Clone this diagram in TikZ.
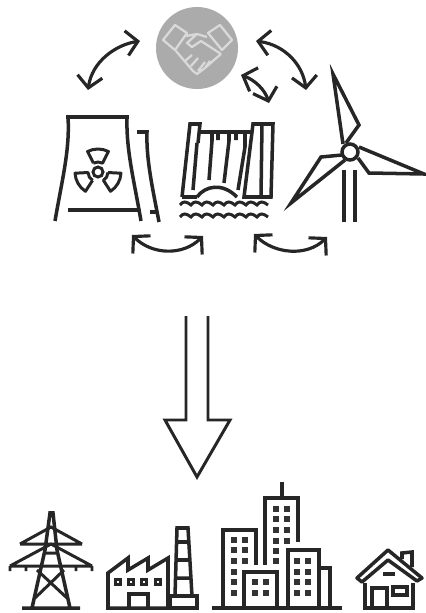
\documentclass[tikz,border=0pt]{standalone}
\usetikzlibrary{arrows.meta}
\tikzset{
  icon/.style={line width=2pt,draw=black!85,line join=miter},
  swap/.style={line width=1.8pt,draw=black!85,{Straight Barb[length=2.3mm,width=5mm,line width=1.8pt]}-{Straight Barb[length=2.3mm,width=5mm,line width=1.8pt]}},
  pane/.style={fill=black!80,draw=none},
}
\begin{document}
\begin{tikzpicture}[x=0.02cm,y=-0.02cm]
\useasboundingbox (0,0) rectangle (426,613);
% handshake
\fill[black!33] (197,48) circle (41);
\draw[white!85!black,line width=1.3pt,line join=round] (163,40)--(175,25)--(187,33)--(175,50)--cycle (208,33)--(220,25)--(232,40)--(222,50)--cycle
  (186,36)--(197,34)--(207,37) (197,34)--(187,43)--(192,47)--(201,41)--(221,54)
  (176,51)--(193,71)--(197,74)--(205,68)--(214,60)--(221,54) (185,61)--(192,55) (191,66)--(198,58) (198,71)--(205,62) (205,68)--(210,61);
\draw[swap] (88,90) .. controls (92,62) and (115,45) .. (140,41);
\draw[swap] (256,41) .. controls (285,45) and (303,65) .. (306,90);
\draw[swap] (241,75) .. controls (255,80) and (265,90) .. (269,103);
\draw[swap] (132,235) .. controls (152,255) and (183,256) .. (203,236);
\draw[swap] (254,234) .. controls (274,254) and (307,257) .. (327,237);
% cooling towers
\draw[icon] (66,117)--(129,117);
\draw[icon] (68,117) .. controls (70,150) and (62,180) .. (55,221);
\draw[icon] (127,117) .. controls (126,150) and (134,180) .. (141,221);
\draw[icon] (68,210)--(140,210);
\draw[icon] (137,132)--(147,132) .. controls (146,160) and (153,190) .. (159,222);
\draw[icon] (150,212)--(158,212);
\draw[icon,line width=1.7pt] (98,172) circle (5);
\foreach \a in {30,150,270}
  \draw[icon,line width=1.7pt,line join=round] (\a-27:10) ++(98,172) -- ++(\a-27:13) arc[start angle=\a-27,end angle=\a+27,radius=23] -- ++(\a+27:-13) arc[start angle=\a+27,end angle=\a-27,radius=10];
% dam
\draw[icon] (182,197)--(190,124)--(200,124)--(198,143) (182,197)--(197,197);
\draw[icon] (200,132)--(253,132);
\draw[icon] (253,124)--(273,124)--(271,197)--(244,197)--cycle (262,124)--(261,197);
\draw[icon] (197,143)--(193,190) (212,133)--(212,141)--(209,180) (229,133)--(229,141)--(224,183) (245,133)--(245,147)--(238,190) (218,140)--(218,133) (236,140)--(236,133);
\draw[icon] (197,197) .. controls (205,186) and (222,182) .. (237,197);
\foreach \y in {205,217}
  \draw[icon,line width=1.7pt] (180,\y) \foreach \i in {0,1,2,3,4,5,6,7} { .. controls (183+\i*11,\y-4) and (186+\i*11,\y-4) .. (191+\i*11,\y) };
% turbine
\draw[icon] (350,152) circle (8);
\draw[icon] (346,143)--(359,125)--(333,74)--(343,144);
\draw[icon] (359,147)--(424,174)--(369,173)--(358,158);
\draw[icon] (342,155)--(321,157)--(291,203)--(345,160);
\draw[icon] (344,170)--(344,222) (355,170)--(355,222);
% big arrow
\draw[line width=1.7pt,draw=black!85] (186,316)--(186,420)--(165,420)--(197,477)--(230,420)--(208,420)--(208,316);
% pylon
\draw[icon] (22,608)--(80,608) (32,608)--(45,550)--(50,513)--(53,513)--(57,550)--(70,608);
\draw[icon,line width=1.7pt] (20,544)--(51,527)--(82,544) (20,544)--(82,544) (10,566)--(51,544)--(92,566) (10,566)--(92,566) (10,566)--(10,571) (92,566)--(92,571) (26,566)--(26,571) (76,566)--(76,571) (37,570)--(67,598) (64,570)--(35,598) (46,553)--(56,553);
% factory
\draw[icon] (108,608)--(108,573)--(128,558)--(128,570)--(148,558)--(148,570)--(168,558)--(168,608)--cycle;
\draw[icon] (129,608)--(129,594)--(148,594)--(148,608);
\foreach \x in {118,131,144,158}
  \draw[icon,line width=1.6pt] (\x-2.5,579.5) rectangle (\x+2.5,584.5);
\draw[icon] (175,596)--(177,528)--(188,528)--(192,596) (176,542)--(189,542) (176,560)--(190,560) (175,578)--(191,578);
\draw[icon] (170,596) rectangle (197,608);
% city
\draw[icon] (212,608)--(342,608);
\draw[icon] (223,608)--(223,530)--(256,530)--(256,565);
\draw[icon] (265,565)--(265,498)--(298,498)--(298,542) (282,482)--(282,498);
\draw[icon] (244,608)--(244,572)--(277,572)--(277,608);
\draw[icon] (288,608)--(288,550)--(319,550)--(319,608) (319,568)--(330,568)--(330,608);
\foreach \x/\y in {234/540,245/540,234/550,245/550,234/561,245/561,234/572,234/582,234/593,
  276/509,287/509,276/519,287/519,276/530,287/530,276/541,287/541,276/551,276/561,
  255/582,266/582,255/593,266/593,
  297/561,308/561,297/572,308/572,297/582,308/582,297/593,308/593}
  \fill[pane] (\x-2.6,\y-2.6) rectangle (\x+2.6,\y+2.6);
% house
\draw[icon,line join=round] (357,578)--(388,550)--(422,578)--(417,581)--(388,560)--(362,582)--cycle;
\draw[icon] (402,559)--(402,553)--(412,552)--(412,567);
\draw[icon] (365,583)--(365,608)--(413,608)--(413,583);
\draw[icon] (372,608)--(372,588)--(387,588)--(387,608);
\draw[icon] (393,587) rectangle (407,595);
\draw[icon] (383,574)--(395,574);
\end{tikzpicture}
\end{document}
